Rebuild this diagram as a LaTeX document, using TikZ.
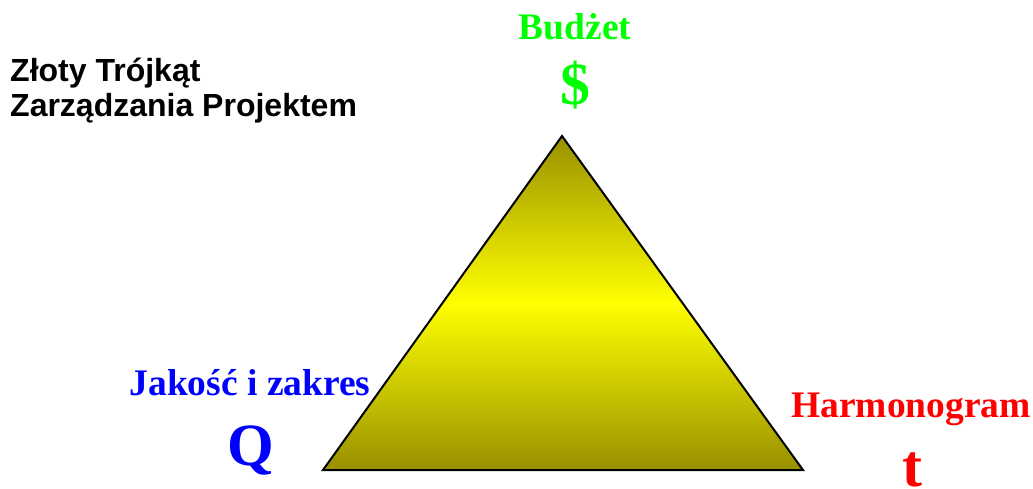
\documentclass[tikz,border=0pt]{standalone}
\usepackage{fontspec}
\setmainfont{Liberation Serif}
\newfontfamily\arialfont{Liberation Sans}
\definecolor{olive1}{RGB}{152,144,0}
\definecolor{yel}{RGB}{255,255,0}
\definecolor{grn}{RGB}{0,255,0}
\definecolor{blu}{RGB}{0,0,255}
\definecolor{rd}{RGB}{255,0,0}
\tikzset{
  titletext/.style={anchor=base west,inner sep=0pt,font=\arialfont\bfseries\fontsize{32}{32}\selectfont},
  label36/.style={anchor=base,inner sep=0pt,font=\bfseries\fontsize{37.5}{37.5}\selectfont},
  sym/.style={anchor=base,inner sep=0pt,font=\bfseries\fontsize{60}{60}\selectfont},
  tri/.style={top color=olive1,bottom color=olive1,middle color=yel}
}
\begin{document}
\begin{tikzpicture}[x=1pt,y=-1pt]
\useasboundingbox (0,0) rectangle (1033,489);
\coordinate (apex) at (562,136);
\coordinate (bl) at (323,470);
\coordinate (br) at (803,470);
\shade[tri] (apex) -- (br) -- (bl) -- cycle;
\draw[line width=2pt,line join=miter] (apex) -- (br) -- (bl) -- cycle;
\node[titletext] (t1) at (10,82) {Złoty Trójkąt};
\node[titletext] (t2) at (10,117) {Zarządzania Projektem};
\node[label36,text=grn] (budzet) at (575,40) {Budżet};
\node[sym,text=grn] (dollar) at (575,105) {\$};
\node[label36,text=blu] (jakosc) at (250,395) {Jakość i zakres};
\node[sym,text=blu] (q) at (251,465) {Q};
\node[label36,text=rd] (harm) at (911,417) {Harmonogram};
\node[sym,text=rd] (t) at (912,486) {t};
\end{tikzpicture}
\end{document}
